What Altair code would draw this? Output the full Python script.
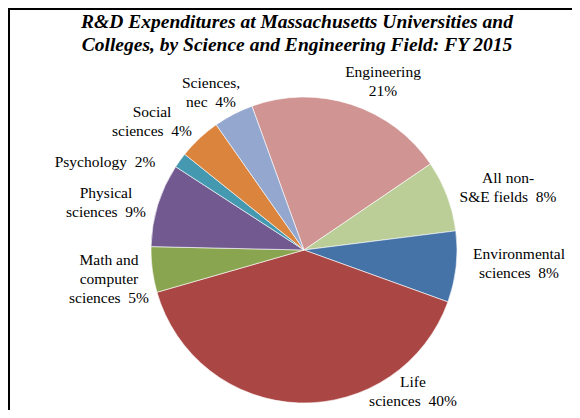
import math
import altair as alt
import pandas as pd

# ---- data ----
fields = ["Engineering", "All non-S&E fields", "Environmental sciences", "Life sciences",
          "Math and computer sciences", "Physical sciences", "Psychology",
          "Social sciences", "Sciences, nec"]
shares = [21.0, 7.5, 7.5, 40.0, 4.8, 8.8, 1.6, 4.5, 4.2]
pct_labels = ["21%", "8%", "8%", "40%", "5%", "9%", "2%", "4%", "4%"]
label_names = ["Engineering\n", "All non-\nS&E fields \u00a0", "Environmental\nsciences \u00a0",
               "Life\nsciences \u00a0", "Math and\ncomputer\nsciences \u00a0", "Physical\nsciences \u00a0",
               "Psychology \u00a0", "Social\nsciences \u00a0", "Sciences,\nnec \u00a0"]
colors = ["#D09493", "#BBCE98", "#4572A7", "#AA4744", "#8AA54F", "#725A91",
          "#4499B0", "#DA843D", "#94A8CF"]

title_lines = ["R&D Expenditures at Massachusetts Universities and",
               "Colleges, by Science and Engineering Field: FY 2015"]

# ---- layout (pixels within the drawing; page = drawing + 8px margin) ----
W, H = 564, 402
cx, cy, R = 296, 242, 153
start = math.radians(-19.9)
label_x = [375, 500, 511, 405, 101, 98, 97, 144, 203]
label_y = [64, 170, 246, 374, 252, 185, 154, 104, 75]   # first-line centres
label_lh = [19, 19, 19, 18, 19.5, 19, 19, 20, 20]

df = pd.DataFrame({"field": fields, "value": shares, "idx": list(range(len(fields)))})
lab = pd.DataFrame({"label": [n + p for n, p in zip(label_names, pct_labels)],
                    "lx": label_x, "ly": label_y})
tdf = pd.DataFrame({"t": title_lines, "tx": [289, 289], "ty": [20, 43]})

pie = alt.Chart(df).mark_arc(radius=R, stroke="#ffffff", strokeWidth=0.6).encode(
    theta=alt.Theta("value:Q", stack=True,
                    scale=alt.Scale(range=[start, start + 2 * math.pi])),
    color=alt.Color("field:N", scale=alt.Scale(domain=fields, range=colors), legend=None),
    order=alt.Order("idx:Q"),
    x=alt.value(cx), y=alt.value(cy),
)

labels = alt.Chart(lab).mark_text(
    font="Liberation Serif", fontSize=15.5, lineBreak="\n", lineHeight=19,
    align="center", baseline="middle", color="#000000",
).encode(
    x=alt.X("lx:Q", scale=None), y=alt.Y("ly:Q", scale=None), text="label:N"
)

title = alt.Chart(tdf).mark_text(
    font="Liberation Serif", fontSize=19.5, fontWeight="bold", fontStyle="italic",
    align="center", baseline="alphabetic", color="#000000",
).encode(
    x=alt.X("tx:Q", scale=None), y=alt.Y("ty:Q", scale=None), text="t:N"
)

left_rule = alt.Chart(df).mark_rule(color="#000000", strokeWidth=2).encode(
    x=alt.value(1), y=alt.value(0), y2=alt.value(H))
top_rule = alt.Chart(df).mark_rule(color="#000000", strokeWidth=2).encode(
    x=alt.value(0), x2=alt.value(W), y=alt.value(1))

chart = alt.layer(pie, labels, title, left_rule, top_rule).properties(
    width=W, height=H, padding=0,
    autosize=alt.AutoSizeParams(type="none"),
).configure_view(stroke=None).configure(background="#ffffff")

chart.save("out.html", embed_options={"renderer": "svg", "actions": False})
